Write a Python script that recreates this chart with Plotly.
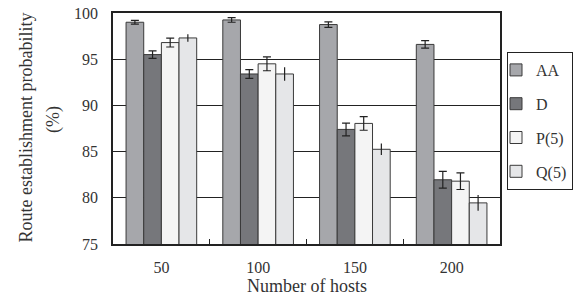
import plotly.graph_objects as go

categories = ["50", "100", "150", "200"]
series_names = ["AA", "D", "P(5)", "Q(5)"]
values = {
    "AA": [99.0, 99.25, 98.75, 96.6],
    "D": [95.5, 93.4, 87.4, 81.95],
    "P(5)": [96.8, 94.5, 88.05, 81.8],
    "Q(5)": [97.3, 93.4, 85.25, 79.45],
}
errors = {
    "AA": [0.2, 0.25, 0.3, 0.4],
    "D": [0.4, 0.47, 0.69, 0.9],
    "P(5)": [0.48, 0.75, 0.74, 0.9],
    "Q(5)": [0.4, 0.72, 0.63, 0.85],
}
colors = {"AA": "#a6a7ab", "D": "#76777b", "P(5)": "#f4f4f4", "Q(5)": "#e5e6e8"}
cap_width = {"AA": 4, "D": 4, "P(5)": 4, "Q(5)": 0}
y_ticks = [75, 80, 85, 90, 95, 100]
y_title_lines = ["Route establishment probability", "(%)"]
x_title = "Number of hosts"

font_family = "Liberation Serif, Times New Roman, serif"
text_color = "#333333"

W, H = 577, 304
L, R, T, B = 113, 77, 13, 60
plot_w, plot_h = W - L - R, H - T - B

fig = go.Figure()
for s in series_names:
    fig.add_trace(go.Bar(
        name=s, x=categories, y=values[s],
        marker=dict(color=colors[s], line=dict(color="#3a3a3a", width=1)),
        error_y=dict(type="data", array=errors[s], color="#222222",
                     thickness=1.2, width=cap_width[s]),
        legendgroup=s,
    ))

def px_x(x):
    return (x - L) / plot_w

def px_y(y):
    return 1 - (y - T) / plot_h

annotations = [
    dict(text=y_title_lines[0], xref="paper", yref="paper",
         x=px_x(25), y=px_y(127.5), textangle=-90, showarrow=False,
         xanchor="center", yanchor="middle",
         font=dict(family=font_family, size=18, color=text_color)),
    dict(text=y_title_lines[1], xref="paper", yref="paper",
         x=px_x(53), y=px_y(120), textangle=-90, showarrow=False,
         xanchor="center", yanchor="middle",
         font=dict(family=font_family, size=18, color=text_color)),
    dict(text=x_title, xref="paper", yref="paper",
         x=0.5, y=px_y(286), showarrow=False,
         xanchor="center", yanchor="middle",
         font=dict(family=font_family, size=18, color=text_color)),
]

fig.update_layout(
    width=W, height=H, autosize=False,
    margin=dict(l=L, r=R, t=T, b=B, autoexpand=False),
    paper_bgcolor="white", plot_bgcolor="white",
    barmode="group", bargap=0.27, bargroupgap=0,
    font=dict(family=font_family, size=16, color=text_color),
    annotations=annotations,
    legend=dict(
        xref="container", yref="container",
        x=507 / W, y=1 - 52 / H, xanchor="left", yanchor="top",
        bordercolor="#222222", borderwidth=1,
        font=dict(family=font_family, size=16, color=text_color),
        tracegroupgap=10, traceorder="grouped",
        itemwidth=30, indentation=-12,
    ),
    xaxis=dict(
        type="category", tickson="boundaries", ticks="inside", ticklen=5,
        tickcolor="#222222", showline=True, linecolor="#222222", linewidth=1.5,
        mirror=True, showgrid=False, automargin=False,
        tickfont=dict(size=16), ticklabelstandoff=8,
    ),
    yaxis=dict(
        range=[75, 100], tickvals=y_ticks, showgrid=True, gridcolor="#222222",
        gridwidth=1, showline=True, linecolor="#222222", linewidth=1.5,
        mirror=True, ticks="", zeroline=False, automargin=False,
        tickfont=dict(size=16), ticklabelstandoff=10,
        ticklabeloverflow="allow",
    ),
)

# Remove the browser's default 8px body margin so the figure fills the window.
fig.write_html("out.html", config={"displayModeBar": False},
               post_script="document.body.style.margin='0px';")
